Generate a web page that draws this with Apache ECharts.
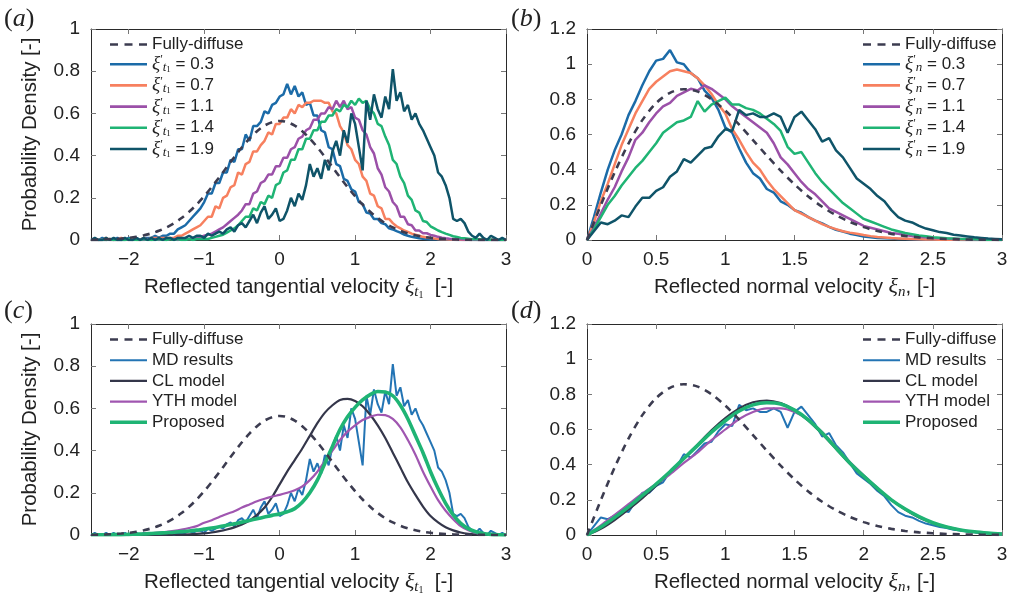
<!DOCTYPE html>
<html><head><meta charset="utf-8">
<script src="https://cdn.jsdelivr.net/npm/echarts@6/dist/echarts.min.js"></script>
<style>html,body{margin:0;padding:0;background:#fff}#c{width:1016px;height:599px}</style>
</head><body><div id="c"></div>
<script>
// ---------------- DATA ----------------
// tangential: smooth curves at step 0.1 from -2.5, MD histograms at step 0.05 from -2.5
// normal: smooth curves at step 0.1 from 0, MD histograms at step 0.05 from 0
const tanTicks = [-2, -1, 0, 1, 2, 3];
const tanFD = [0.0011,0.0018,0.0028,0.0045,0.0069,0.0103,0.0153,0.0221,0.0314,0.0436,
  0.0595,0.0795,0.1041,0.1337,0.1682,0.2076,0.2510,0.2975,0.3456,0.3936,
  0.4394,0.4808,0.5157,0.5421,0.5586,0.5642,0.5586,0.5421,0.5157,0.4808,
  0.4394,0.3936,0.3456,0.2975,0.2510,0.2076,0.1682,0.1337,0.1041,0.0795,
  0.0595,0.0436,0.0314,0.0221,0.0153,0.0103,0.0069,0.0045,0.0028,0.0018,
  0.0011,0.0006,0.0004,0.0002,0.0001,0.0001];
const tan03 = [0,0,0,0.01,0,0,0,0.01,0,0,
  0.01,0,0.01,0,0.01,0.01,0.01,0.02,0.01,0.02,
  0.02,0.03,0.03,0.05,0.06,0.07,0.09,0.11,0.13,0.15,
  0.18,0.22,0.22,0.27,0.27,0.32,0.32,0.38,0.37,0.43,
  0.43,0.50,0.47,0.54,0.54,0.56,0.61,0.60,0.64,0.65,
  0.68,0.69,0.74,0.69,0.73,0.68,0.70,0.64,0.65,0.59,
  0.59,0.52,0.51,0.44,0.43,0.36,0.35,0.29,0.28,0.24,
  0.23,0.18,0.17,0.13,0.125,0.10,0.10,0.08,0.075,0.055,
  0.05,0.042,0.035,0.026,0.02,0.015,0.012,0.008,0.006,0.005,
  0.004,0.003,0.003,0.002,0.002,0.001,0.001,0,0.001,0,
  0,0,0,0,0,0,0,0,0,0,0];
const tan07 = [0,0,0,0,0.01,0,0,0,0.01,0,
  0,0.01,0,0,0.01,0,0.01,0.01,0.01,0.01,
  0.01,0.01,0.01,0.02,0.02,0.03,0.04,0.05,0.06,0.07,
  0.09,0.11,0.11,0.16,0.15,0.20,0.21,0.25,0.26,0.32,
  0.31,0.36,0.37,0.42,0.42,0.45,0.47,0.51,0.50,0.55,
  0.55,0.58,0.58,0.62,0.60,0.64,0.63,0.65,0.65,0.66,
  0.66,0.66,0.65,0.65,0.61,0.60,0.54,0.51,0.45,0.43,
  0.38,0.36,0.30,0.28,0.22,0.21,0.16,0.15,0.10,0.10,
  0.08,0.065,0.055,0.045,0.038,0.03,0.025,0.02,0.015,0.012,
  0.01,0.007,0.005,0.004,0.003,0.002,0.002,0.001,0.001,0,
  0,0,0,0,0,0,0,0,0,0,0];
const tan11 = [0,0,0,0,0,0.005,0,0,0,0.005,
  0,0,0.005,0,0,0.005,0,0.005,0,0.005,
  0,0.005,0.005,0,0.005,0.005,0.005,0.005,0.01,0.015,
  0.02,0.025,0.03,0.04,0.05,0.06,0.075,0.09,0.105,0.12,
  0.14,0.17,0.17,0.22,0.23,0.27,0.28,0.31,0.31,0.35,
  0.35,0.39,0.39,0.43,0.44,0.48,0.49,0.52,0.53,0.57,
  0.57,0.60,0.60,0.63,0.62,0.66,0.63,0.66,0.62,0.63,
  0.58,0.57,0.52,0.50,0.44,0.41,0.34,0.31,0.25,0.23,
  0.18,0.16,0.11,0.11,0.075,0.07,0.045,0.045,0.032,0.032,
  0.024,0.02,0.015,0.011,0.008,0.006,0.005,0.004,0.003,0.002,
  0.002,0.001,0.001,0,0,0,0,0,0,0,0];
const tan14 = [0,0,0,0,0,0.005,0,0,0,0,
  0.005,0,0,0,0.005,0,0,0,0.005,0,
  0,0.005,0,0.005,0,0,0.005,0,0.005,0.005,
  0.005,0.005,0.01,0.015,0.02,0.025,0.035,0.045,0.055,0.07,
  0.09,0.11,0.11,0.15,0.14,0.18,0.17,0.21,0.20,0.26,
  0.27,0.32,0.33,0.38,0.38,0.43,0.43,0.48,0.48,0.52,
  0.52,0.56,0.56,0.59,0.59,0.62,0.61,0.64,0.63,0.66,
  0.64,0.67,0.65,0.66,0.62,0.60,0.55,0.54,0.49,0.45,
  0.38,0.36,0.30,0.27,0.21,0.19,0.14,0.13,0.09,0.085,
  0.065,0.055,0.045,0.037,0.03,0.024,0.018,0.014,0.01,0.008,
  0.006,0.004,0.003,0.003,0.002,0.002,0.001,0.001,0,0,0];
const tan19 = [0,0.01,0,0,0.01,0,0.01,0,0,0.01,
  0,0,0.01,0,0.01,0,0.01,0,0.01,0,
  0.01,0.01,0,0.01,0.01,0.01,0.02,0.01,0.02,0.02,
  0.01,0.03,0.02,0.03,0.04,0.03,0.05,0.06,0.04,0.07,
  0.08,0.06,0.09,0.12,0.08,0.13,0.16,0.10,0.12,0.15,
  0.09,0.10,0.14,0.20,0.16,0.22,0.19,0.26,0.36,0.30,
  0.34,0.29,0.38,0.33,0.42,0.47,0.40,0.52,0.46,0.60,
  0.55,0.44,0.33,0.66,0.57,0.69,0.62,0.58,0.68,0.62,
  0.81,0.66,0.70,0.61,0.64,0.57,0.60,0.55,0.52,0.48,
  0.44,0.40,0.32,0.30,0.26,0.20,0.10,0.09,0.10,0.08,
  0.04,0.02,0.01,0.03,0.01,0,0.02,0.01,0,0.01,0];
const tanCL = [0,0,0,0,0,0.0002,0.0003,0.0004,0.0006,0.0008,
  0.001,0.0013,0.002,0.003,0.005,0.008,0.012,0.018,0.026,0.036,
  0.05,0.068,0.095,0.13,0.18,0.24,0.30,0.355,0.41,0.47,
  0.53,0.58,0.615,0.64,0.645,0.635,0.61,0.57,0.52,0.46,
  0.39,0.32,0.25,0.19,0.135,0.09,0.06,0.037,0.022,0.012,
  0.006,0.003,0.001,0,0,0];
const tanYTH = [0,0,0.001,0.001,0.002,0.003,0.004,0.006,0.008,0.011,
  0.015,0.02,0.026,0.033,0.042,0.058,0.07,0.085,0.10,0.113,
  0.13,0.145,0.16,0.172,0.182,0.19,0.20,0.212,0.23,0.26,
  0.30,0.35,0.40,0.45,0.49,0.52,0.545,0.56,0.57,0.568,
  0.55,0.51,0.45,0.38,0.30,0.23,0.165,0.115,0.075,0.042,
  0.022,0.01,0.005,0.002,0.001,0];
const tanProp = [0.001,0.001,0.001,0.002,0.002,0.003,0.004,0.005,0.007,0.009,
  0.011,0.013,0.016,0.019,0.023,0.028,0.033,0.039,0.046,0.053,
  0.061,0.069,0.077,0.085,0.093,0.100,0.110,0.125,0.155,0.20,
  0.26,0.34,0.42,0.50,0.56,0.605,0.64,0.665,0.68,0.678,
  0.66,0.615,0.55,0.47,0.39,0.30,0.22,0.15,0.095,0.055,
  0.03,0.015,0.007,0.003,0.001,0];

const normFD = [0,0.198,0.3843,0.5483,0.6817,0.7788,0.8372,0.8577,0.8437,0.8008,
  0.7358,0.6560,0.5686,0.4797,0.3945,0.3162,0.2474,0.1890,0.1411,0.1030,
  0.0733,0.0510,0.0348,0.0232,0.0151,0.0097,0.0060,0.0037,0.0022,0.0013,0.0007];
const norm03 = [0,0.13,0.27,0.40,0.51,0.60,0.71,0.79,0.88,0.96,
  1.02,1.03,1.08,1.01,1.00,0.95,0.92,0.85,0.81,0.74,
  0.64,0.61,0.52,0.44,0.38,0.35,0.29,0.27,0.22,0.20,
  0.17,0.155,0.13,0.11,0.095,0.075,0.058,0.048,0.036,0.028,
  0.02,0.016,0.012,0.01,0.008,0.006,0.005,0.004,0.003,0.002,
  0.002,0.001,0.001,0.001,0,0,0,0,0,0,0];
const norm07 = [0,0.10,0.22,0.32,0.43,0.54,0.63,0.72,0.79,0.86,
  0.90,0.93,0.96,0.97,0.96,0.95,0.92,0.88,0.83,0.77,
  0.72,0.63,0.57,0.50,0.44,0.40,0.34,0.29,0.25,0.21,
  0.17,0.15,0.13,0.11,0.09,0.075,0.062,0.05,0.042,0.035,
  0.028,0.022,0.017,0.014,0.011,0.009,0.007,0.005,0.004,0.003,
  0.003,0.002,0.002,0.001,0.001,0,0,0,0,0,0];
const norm11 = [0,0.07,0.15,0.23,0.30,0.39,0.47,0.57,0.61,0.67,
  0.72,0.76,0.78,0.82,0.84,0.86,0.85,0.88,0.86,0.83,
  0.80,0.76,0.73,0.70,0.67,0.64,0.61,0.55,0.47,0.43,
  0.38,0.33,0.29,0.26,0.22,0.18,0.16,0.14,0.12,0.10,
  0.08,0.07,0.06,0.05,0.04,0.035,0.028,0.022,0.018,0.015,
  0.012,0.01,0.008,0.006,0.005,0.004,0.003,0.002,0.001,0.001,0];
const norm14 = [0,0.06,0.13,0.20,0.25,0.31,0.36,0.41,0.45,0.50,
  0.55,0.61,0.64,0.67,0.68,0.70,0.79,0.73,0.77,0.79,
  0.81,0.77,0.77,0.75,0.74,0.72,0.69,0.66,0.62,0.53,
  0.49,0.50,0.44,0.38,0.33,0.29,0.25,0.21,0.18,0.15,
  0.12,0.105,0.09,0.075,0.06,0.05,0.04,0.033,0.026,0.021,
  0.016,0.013,0.01,0.008,0.006,0.005,0.004,0.003,0.002,0.001,0.001];
const norm19 = [0,0.05,0.10,0.09,0.11,0.14,0.13,0.19,0.24,0.24,
  0.28,0.30,0.36,0.39,0.46,0.44,0.48,0.52,0.53,0.59,
  0.63,0.62,0.74,0.71,0.72,0.70,0.70,0.72,0.70,0.61,
  0.70,0.73,0.68,0.63,0.56,0.58,0.51,0.47,0.41,0.35,
  0.32,0.29,0.25,0.22,0.17,0.13,0.11,0.10,0.08,0.065,
  0.055,0.045,0.04,0.03,0.025,0.02,0.015,0.012,0.008,0.006,0.004];
const normCL = [0,0.035,0.085,0.145,0.21,0.28,0.355,0.435,0.515,0.595,
  0.665,0.72,0.755,0.765,0.75,0.71,0.65,0.575,0.49,0.405,
  0.33,0.26,0.2,0.145,0.1,0.068,0.045,0.028,0.017,0.01,0.006];
const normYTH = [0,0.055,0.115,0.175,0.235,0.29,0.345,0.41,0.47,0.54,
  0.6,0.66,0.7,0.72,0.72,0.7,0.655,0.585,0.5,0.415,
  0.34,0.268,0.2,0.148,0.105,0.07,0.046,0.029,0.018,0.011,0.006];
const normProp = [0,0.045,0.1,0.16,0.225,0.29,0.36,0.435,0.51,0.585,
  0.65,0.705,0.74,0.752,0.745,0.71,0.655,0.58,0.495,0.41,
  0.335,0.265,0.2,0.148,0.105,0.07,0.046,0.029,0.018,0.011,0.006];

// ---------------- STYLE ----------------
const SANS = '"Liberation Sans", Arial, Helvetica, sans-serif';
const SERIF = '"Liberation Serif", "DejaVu Serif", serif';
const TXT = '#222';
const C = {fd:'#3c3c50', b:'#1b6ba8', s:'#f7805f', p:'#9b50a8', g:'#1fb474', t:'#0f5469',
           md:'#2374b4', cl:'#34364a', yth:'#a056b0', prop:'#1fb474'};

function pairs(x0, step, ys){ return ys.map((y,i)=>[+(x0+i*step).toFixed(3), y]); }
const minus = v => v < 0 ? '\u2212' + (-v) : String(v);

const grids = [
  {left:91, top:29, width:415, height:211},
  {left:587, top:29, width:415, height:211},
  {left:91, top:324, width:415, height:211},
  {left:587, top:324, width:415, height:211}
];

const richCommon = {
  t:{fontFamily:SANS, fontSize:20.5, color:TXT, lineHeight:26},
  xi:{fontFamily:SERIF, fontStyle:'italic', fontSize:22, color:TXT, lineHeight:26},
  sub:{fontFamily:SERIF, fontStyle:'italic', fontSize:15, color:TXT, lineHeight:16, verticalAlign:'bottom'},
  sub2:{fontFamily:SERIF, fontSize:10, color:TXT, lineHeight:10, verticalAlign:'bottom'}
};
const tanName = '{t|Reflected tangential velocity }{xi|ξ}{sub|t}{sub2|1}{t|  [-]}';
const normName = '{t|Reflected normal velocity }{xi|ξ}{sub|n}{t|, [-]}';

const xAxes = [], yAxes = [];
grids.forEach((g, i) => {
  const tan = (i % 2 === 0);
  const base = {
    type:'value', gridIndex:i, min: tan ? -2.5 : 0, max:3,
    axisLine:{show:true, onZero:false, lineStyle:{color:'#2a2a2a', width:1}},
    splitLine:{show:false}
  };
  const tick = tan ? {inside:true, length:5, lineStyle:{color:'#777'}, customValues:tanTicks}
                   : {inside:true, length:5, lineStyle:{color:'#777'}};
  const bottom = Object.assign({}, base, {
    position:'bottom',
    axisTick: tick,
    axisLabel: Object.assign({margin:10, fontSize:19, color:TXT, fontFamily:SANS, formatter:minus},
      tan ? {customValues:tanTicks} : {}),
    name: tan ? tanName : normName, nameLocation:'middle', nameGap:34,
    nameTextStyle:{rich:richCommon}
  });
  if (!tan) bottom.interval = 0.5;
  const top = Object.assign({}, base, {
    position:'top', axisTick: tick, axisLabel:{show:false}
  });
  if (!tan) top.interval = 0.5;
  xAxes.push(bottom, top);
  const ybase = {type:'value', gridIndex:i, min:0, max: tan ? 1 : 1.2, interval:0.2,
    axisLine:{show:true, onZero:false, lineStyle:{color:'#2a2a2a', width:1}}, splitLine:{show:false},
    axisTick:{inside:true, length:5, lineStyle:{color:'#777'}}};
  const left = Object.assign({}, ybase, {position:'left',
    axisLabel:{margin:11, fontSize:19, color:TXT, fontFamily:SANS}});
  if (tan) Object.assign(left, {name:'Probability Density [-]', nameLocation:'middle', nameGap:50,
    nameTextStyle:{fontFamily:SANS, fontSize:20.5, color:TXT}});
  const right = Object.assign({}, ybase, {position:'right', axisLabel:{show:false}});
  yAxes.push(left, right);
});

const series = [];
function line(panel, name, data, color, width, extra){
  series.push(Object.assign({type:'line', name, xAxisIndex:panel*2, yAxisIndex:panel*2, data,
    showSymbol:false, symbol:'none', animation:false, silent:true,
    lineStyle:{color, width}, itemStyle:{color}}, extra||{}));
}
const dashed = {lineStyle:{color:C.fd, width:2.6, type:[7,6]}, smooth:0.3, z:5};
// (a)
line(0,'t0.3',pairs(-2.5,0.05,tan03),C.b,2.5);
line(0,'t0.7',pairs(-2.5,0.05,tan07),C.s,2.5);
line(0,'t1.1',pairs(-2.5,0.05,tan11),C.p,2.5);
line(0,'t1.4',pairs(-2.5,0.05,tan14),C.g,2.5);
line(0,'t1.9',pairs(-2.5,0.05,tan19),C.t,2.5);
line(0,'Fully-diffuse',pairs(-2.5,0.1,tanFD),C.fd,2.6,dashed);
// (b)
line(1,'n0.3',pairs(0,0.05,norm03),C.b,2.5);
line(1,'n0.7',pairs(0,0.05,norm07),C.s,2.5);
line(1,'n1.1',pairs(0,0.05,norm11),C.p,2.5);
line(1,'n1.4',pairs(0,0.05,norm14),C.g,2.5);
line(1,'n1.9',pairs(0,0.05,norm19),C.t,2.5);
line(1,'Fully-diffuse',pairs(0,0.1,normFD),C.fd,2.6,dashed);
// (c)
line(2,'MD results',pairs(-2.5,0.05,tan19),C.md,2);
line(2,'CL model',pairs(-2.5,0.1,tanCL),C.cl,2.2,{smooth:0.3});
line(2,'YTH model',pairs(-2.5,0.1,tanYTH),C.yth,2.2,{smooth:0.3});
line(2,'Proposed',pairs(-2.5,0.1,tanProp),C.prop,3.6,{smooth:0.3});
line(2,'Fully-diffuse',pairs(-2.5,0.1,tanFD),C.fd,2.6,dashed);
// (d)
line(3,'MD results',pairs(0,0.05,norm19),C.md,2);
line(3,'CL model',pairs(0,0.1,normCL),C.cl,2.2,{smooth:0.3});
line(3,'YTH model',pairs(0,0.1,normYTH),C.yth,2.2,{smooth:0.3});
line(3,'Proposed',pairs(0,0.1,normProp),C.prop,3.6,{smooth:0.3});
line(3,'Fully-diffuse',pairs(0,0.1,normFD),C.fd,2.6,dashed);

const legRich = {
  t:{fontFamily:SANS, fontSize:17, color:TXT, lineHeight:20},
  xi:{fontFamily:SERIF, fontStyle:'italic', fontSize:19, color:TXT, lineHeight:20},
  pr:{fontFamily:SERIF, fontSize:12, color:TXT, lineHeight:12, verticalAlign:'top'},
  sub:{fontFamily:SERIF, fontStyle:'italic', fontSize:13, color:TXT, lineHeight:12, verticalAlign:'bottom'},
  sub2:{fontFamily:SERIF, fontSize:9, color:TXT, lineHeight:8, verticalAlign:'bottom'}
};
function legFmt(name){
  if (/^t\d/.test(name)) return '{xi|ξ}{pr|′}{sub|t}{sub2|1}{t| = ' + name.slice(1) + '}';
  if (/^n\d/.test(name)) return '{xi|ξ}{pr|′}{sub|n}{t| = ' + name.slice(1) + '}';
  return '{t|' + name + '}';
}
function bar(w){ return 'path://M0,0h37v' + w + 'h-37z'; }
const dashIcon = 'path://M0,0h8v2.6h-8z M14.5,0h8v2.6h-8z M29,0h8v2.6h-8z';
function item(name, color, w, dash){
  return {name, icon: dash ? dashIcon : bar(w), itemStyle:{color}};
}
function legend(left, top, gap, list){
  return {orient:'vertical', left, top, padding:0, itemGap:gap, itemWidth:37, itemHeight:20,
    symbolKeepAspect:true, selectedMode:false, formatter:legFmt, textStyle:{rich:legRich}, data:list};
}
const legA = [item('Fully-diffuse',C.fd,2.6,true), item('t0.3',C.b,2.6), item('t0.7',C.s,2.6),
  item('t1.1',C.p,2.6), item('t1.4',C.g,2.6), item('t1.9',C.t,2.6)];
const legB = [item('Fully-diffuse',C.fd,2.6,true), item('n0.3',C.b,2.6), item('n0.7',C.s,2.6),
  item('n1.1',C.p,2.6), item('n1.4',C.g,2.6), item('n1.9',C.t,2.6)];
const legC = [item('Fully-diffuse',C.fd,2.6,true), item('MD results',C.md,2), item('CL model',C.cl,2.2),
  item('YTH model',C.yth,2.2), item('Proposed',C.prop,3.6)];

function panelLabel(left, top, ch){
  return {type:'text', left, top, z:10, style:{text:'{p|(}{i|' + ch + '}{p|)}', rich:{
    p:{fontFamily:SERIF, fontSize:26, fill:TXT, color:TXT},
    i:{fontFamily:SERIF, fontStyle:'italic', fontSize:26, fill:TXT, color:TXT}}}};
}

const chart = echarts.init(document.getElementById('c'), null, {renderer:'canvas'});
chart.setOption({
  animation:false,
  backgroundColor:'#fff',
  grid: grids,
  xAxis: xAxes,
  yAxis: yAxes,
  series,
  legend:[legend(110,36,1.2,legA), legend(863,36,1.2,legB), legend(110,331,3.7,legC), legend(863,331,3.7,legC)],
  graphic:[panelLabel(4,6,'a'), panelLabel(511,6,'b'), panelLabel(4,298,'c'), panelLabel(511,298,'d')]
});
</script></body></html>
